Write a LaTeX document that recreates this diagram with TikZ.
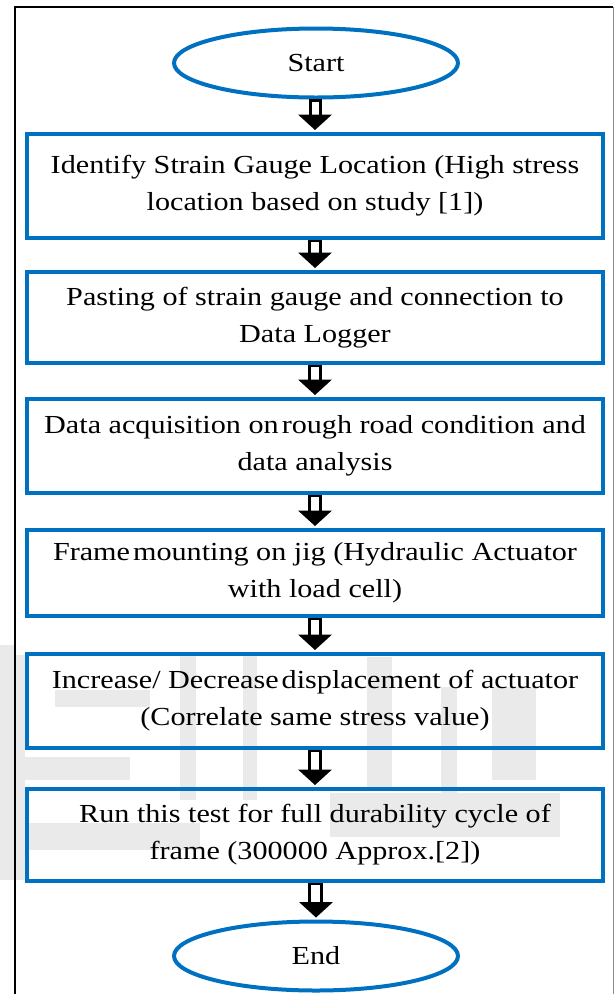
\documentclass[tikz,border=0pt]{standalone}
\usepackage{fontspec}
\setmainfont{Liberation Serif}[FakeStretch=1.16]
\usetikzlibrary{shapes.geometric,calc}
\definecolor{flowblue}{RGB}{0,112,192}
\definecolor{wmgray}{RGB}{234,234,234}
\newcommand\flowarrow[2]{%
  \draw[line width=2.2pt, fill=white] ($(#1.south)+(-5.5,1)$) rectangle ($(#2.north)+(5.5,-16)$);
  \fill ($(#2.north)+(-17,-17.5)$) -- ($(#2.north)+(17,-17.5)$) -- ($(#2.north)+(0,-2)$) -- cycle;
}
\newcommand\nsp{\hspace{3pt}}
\begin{document}
\begin{tikzpicture}[x=1pt,y=-1pt,
  stepbox/.style={draw=flowblue, line width=4pt, rectangle, minimum width=576pt, align=center,
    inner sep=0pt, font=\fontsize{26}{37}\selectfont},
  termnode/.style={draw=flowblue, line width=4pt, ellipse, minimum width=284pt, minimum height=69pt,
    inner sep=0pt, font=\fontsize{26}{37}\selectfont},
  wm/.style={fill=wmgray, draw=none}]
\useasboundingbox (0,0) rectangle (614,994);
% watermark
\fill[wm] (0,645) rectangle (14,880);
\fill[wm] (15,655) rectangle (25,880);
\fill[wm] (15,757) rectangle (130,780);
\fill[wm] (55,690) rectangle (150,707);
\fill[wm] (0,823) rectangle (200,850);
\fill[wm] (180,655) rectangle (196,800);
\fill[wm] (243,653) rectangle (257,800);
\fill[wm] (367,657) rectangle (392,790);
\fill[wm] (441,687) rectangle (457,793);
\fill[wm] (492,687) rectangle (536,780);
\fill[wm] (330,793) rectangle (560,837);
% frame
\draw[line width=2pt] (15,994) -- (15,7) -- (613,7);
\draw[line width=1pt, black!45] (613,7) -- (613,994);
% nodes
\node[termnode] (start) at (316,63) {Start};
\node[stepbox, minimum height=104pt] (b1) at (315,186) {Identify Strain Gauge Location (High stress\\location based on study [1])};
\node[stepbox, minimum height=91pt] (b2) at (315,317.5) {Pasting of strain gauge and connection to\\Data Logger};
\node[stepbox, minimum height=94pt] (b3) at (315,446) {Data acquisition on\nsp rough road condition and\\data analysis};
\node[stepbox, minimum height=86pt] (b4) at (315,573) {Frame\nsp mounting on jig (Hydraulic Actuator\\with load cell)};
\node[stepbox, minimum height=94pt] (b5) at (315,701) {Increase/ Decrease\nsp displacement of actuator\\(Correlate same stress value)};
\node[stepbox, minimum height=92pt] (b6) at (315,835) {Run this test for full durability cycle of\\frame (300000 Approx.[2])};
\node[termnode] (end) at (316,956) {End};
% connectors
\flowarrow{start}{b1}
\flowarrow{b1}{b2}
\flowarrow{b2}{b3}
\flowarrow{b3}{b4}
\flowarrow{b4}{b5}
\flowarrow{b5}{b6}
\flowarrow{b6}{end}
\end{tikzpicture}
\end{document}
